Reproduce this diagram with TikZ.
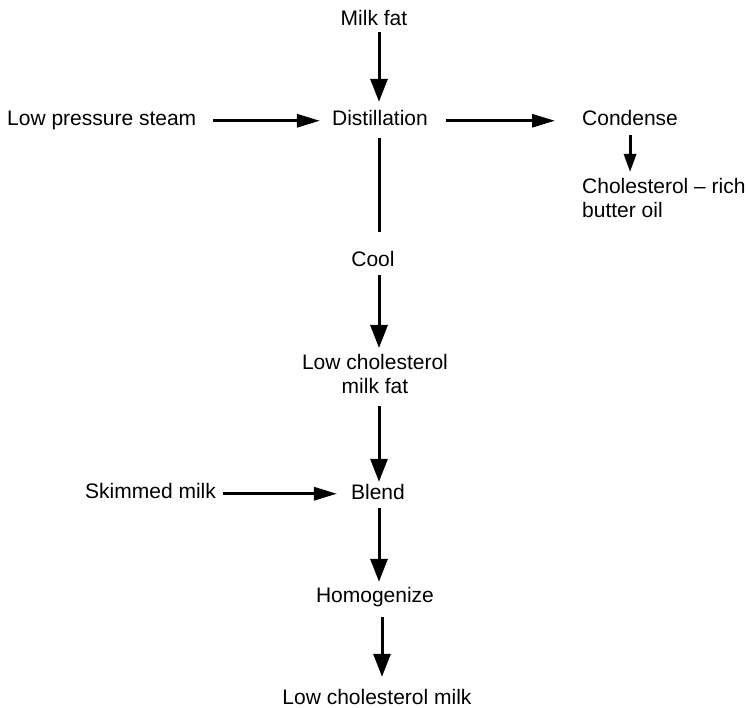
\documentclass[tikz,border=0pt]{standalone}
\usepackage{fontspec}
\setmainfont{Liberation Sans}
\usetikzlibrary{arrows.meta}
\begin{document}
\begin{tikzpicture}[x=1pt,y=-1pt,
  label/.style={inner sep=0pt, font=\fontsize{21}{24}\selectfont,
                text height=15pt, text depth=4.5pt},
  twoline/.style={label, text height=, text depth=, align=center},
  flow/.style={line width=3pt},
  arr/.style={flow, -{Triangle[length=23pt,width=17pt]}},
  harr/.style={flow, -{Triangle[length=23pt,width=13pt]}},
  sarr/.style={flow, -{Triangle[length=18pt,width=12pt]}}]
  \useasboundingbox (0,0) rectangle (748,708);
  % main vertical line of the process
  \coordinate (spine) at (379,0);

  % process steps
  \node[label, anchor=base] (milk) at (374,26) {Milk fat};
  \node[label, anchor=base] (dist) at (380,126) {Distillation};
  \node[label, anchor=base west] (steam) at (7,126) {Low pressure steam};
  \node[label, anchor=base west] (cond) at (582,126) {Condense};
  \node[twoline, align=left, anchor=north west] (oil) at (582,177.7)
       {Cholesterol -- rich\\butter oil};
  \node[label, anchor=base] (cool) at (373,267) {Cool};
  \node[twoline, anchor=north] (lcfat) at (375,353.7) {Low cholesterol\\milk fat};
  \node[label, anchor=base west] (skim) at (85,499) {Skimmed milk};
  \node[label, anchor=base] (blend) at (378,500) {Blend};
  \node[label, anchor=base] (homog) at (375,603) {Homogenize};
  \node[label, anchor=base] (lcmilk) at (377,705) {Low cholesterol milk};

  % connectors
  \draw[arr, shorten <=1.5pt, shorten >=9pt]
    (milk.south -| spine) -- (dist.north -| spine);
  \draw[harr, shorten <=17pt, shorten >=12pt]
    (steam.east) -- (steam.east -| dist.west);
  \draw[harr, shorten <=18pt, shorten >=27pt]
    (dist.east) -- (dist.east -| cond.west);
  \draw[sarr, shorten <=4.5pt, shorten >=5.7pt]
    (cond.south) -- (cond.south |- oil.north);
  \draw[flow, shorten <=7.5pt, shorten >=20pt]
    (dist.south -| spine) -- (cool.north -| spine);
  \draw[arr, shorten <=3.5pt, shorten >=5.7pt]
    (cool.south -| spine) -- (lcfat.north -| spine);
  \draw[arr, shorten <=12pt, shorten >=3pt]
    (lcfat.south -| spine) -- (blend.north -| spine);
  \draw[harr, shorten <=7pt, shorten >=14pt]
    (skim.east) -- (skim.east -| blend.west);
  \draw[arr, shorten <=3.5pt, shorten >=6pt]
    (blend.south -| spine) -- (homog.north -| spine);
  \draw[arr, shorten <=9.5pt, shorten >=13pt]
    ([xshift=3pt]homog.south -| spine) -- ([xshift=3pt]lcmilk.north -| spine);
\end{tikzpicture}
\end{document}
